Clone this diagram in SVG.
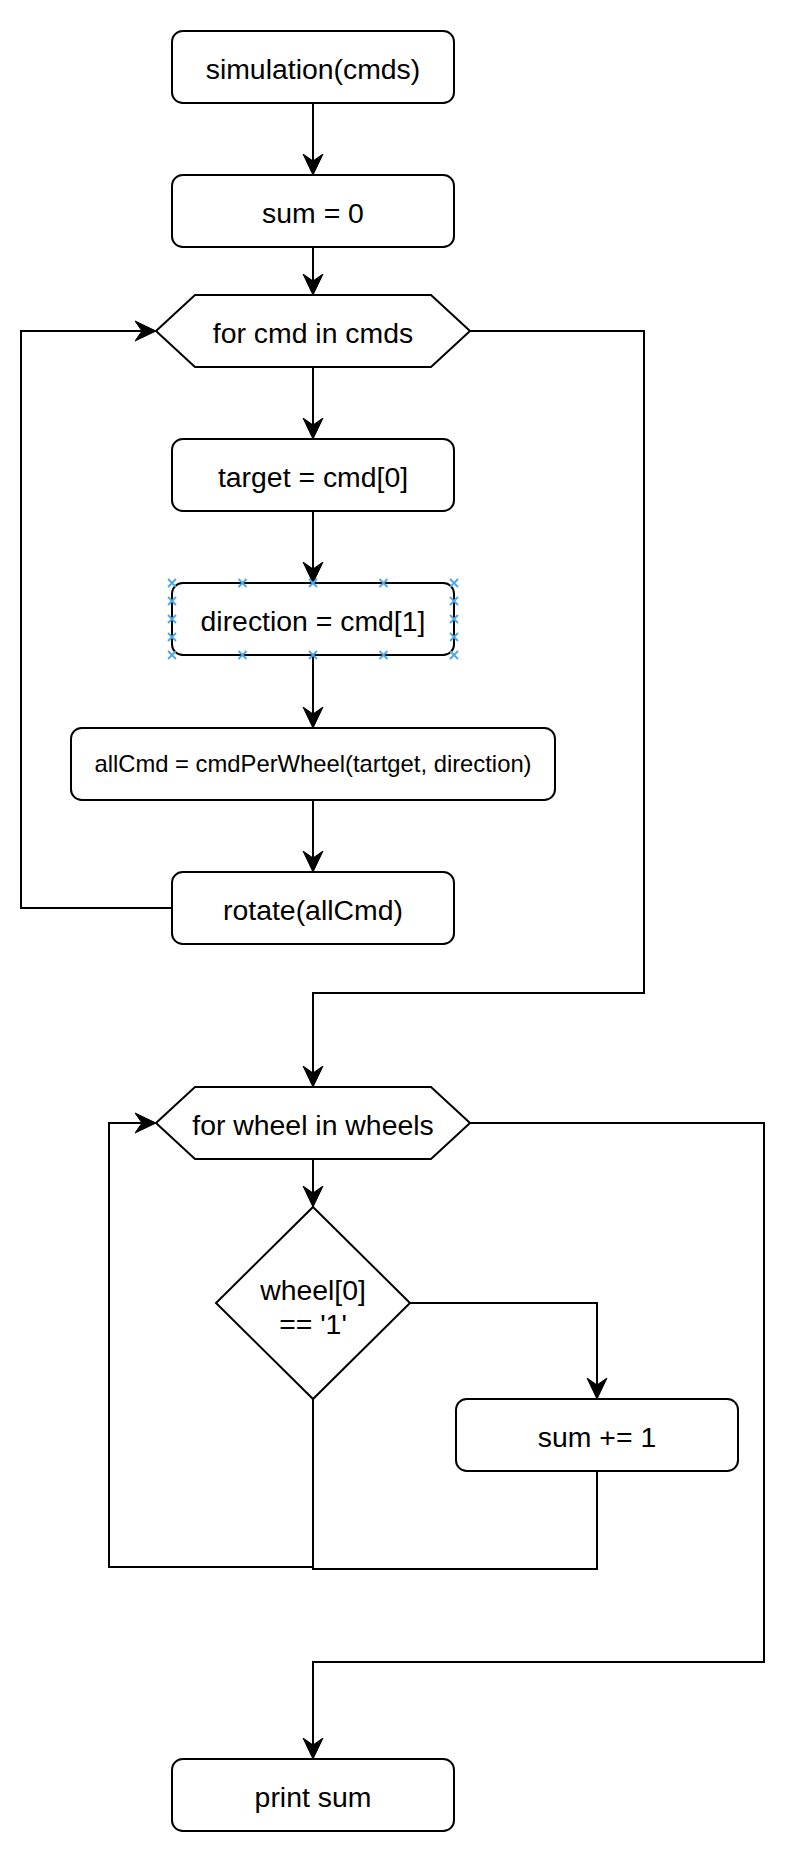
<svg xmlns="http://www.w3.org/2000/svg" width="810" height="1854" viewBox="0 0 810 1854">
<style>
.box{fill:#ffffff;stroke:#000000;stroke-width:2}
.t{font-family:"Liberation Sans",Arial,Helvetica,sans-serif;font-size:28.4px;fill:#000000;text-anchor:middle}
.ts{font-family:"Liberation Sans",Arial,Helvetica,sans-serif;font-size:23.8px;fill:#000000;text-anchor:middle}
.c{fill:none;stroke:#000000;stroke-width:2}
.sel{fill:none;stroke:#4aa8ea;stroke-width:1.8}
</style>
<defs>
<marker id="arr" markerUnits="userSpaceOnUse" markerWidth="22" markerHeight="22" viewBox="0 0 22 22" refX="21" refY="11" orient="auto">
<path d="M21,11 L0,1 L7,11 L0,21 Z" fill="#000000" stroke="#000000" stroke-width="1" stroke-linejoin="miter"/>
</marker>
</defs>
<rect width="810" height="1854" fill="#ffffff"/>
<g id="connectors">
<path class="c" d="M313,103 V175" marker-end="url(#arr)"/>
<path class="c" d="M313,247 V295" marker-end="url(#arr)"/>
<path class="c" d="M313,367 V439" marker-end="url(#arr)"/>
<path class="c" d="M313,511 V583" marker-end="url(#arr)"/>
<path class="c" d="M313,655 V728" marker-end="url(#arr)"/>
<path class="c" d="M313,800 V872" marker-end="url(#arr)"/>
<path class="c" d="M172,908 H21 V331 H156" marker-end="url(#arr)"/>
<path class="c" d="M470,331 H644 V993 H313 V1087" marker-end="url(#arr)"/>
<path class="c" d="M313,1159 V1207" marker-end="url(#arr)"/>
<path class="c" d="M410,1303 H597 V1399" marker-end="url(#arr)"/>
<path class="c" d="M313,1399 V1567 H109 V1123 H156" marker-end="url(#arr)"/>
<path class="c" d="M597,1471 V1569 H312"/>
<path class="c" d="M470,1123 H764 V1662 H313 V1759" marker-end="url(#arr)"/>
</g>
<g id="simulation">
<rect class="box" x="172" y="31" width="282" height="72" rx="10.8"/>
<text class="t" x="313" y="78.5">simulation(cmds)</text>
</g>
<g id="sum0">
<rect class="box" x="172" y="175" width="282" height="72" rx="10.8"/>
<text class="t" x="313" y="222.5">sum = 0</text>
</g>
<g id="forCmd">
<polygon class="box" points="156,331 195,295 431,295 470,331 431,367 195,367"/>
<text class="t" x="313" y="342.5">for cmd in cmds</text>
</g>
<g id="target">
<rect class="box" x="172" y="439" width="282" height="72" rx="10.8"/>
<text class="t" x="313" y="486.5">target = cmd[0]</text>
</g>
<g id="direction">
<rect class="box" x="172" y="583" width="282" height="72" rx="10.8"/>
<text class="t" x="313" y="630.5">direction = cmd[1]</text>
<path class="sel" d="M168,579 l8,8 m0,-8 l-8,8 M238.5,579 l8,8 m0,-8 l-8,8 M309,579 l8,8 m0,-8 l-8,8 M379.5,579 l8,8 m0,-8 l-8,8 M450,579 l8,8 m0,-8 l-8,8 M168,651 l8,8 m0,-8 l-8,8 M238.5,651 l8,8 m0,-8 l-8,8 M309,651 l8,8 m0,-8 l-8,8 M379.5,651 l8,8 m0,-8 l-8,8 M450,651 l8,8 m0,-8 l-8,8 M168,597 l8,8 m0,-8 l-8,8 M168,615 l8,8 m0,-8 l-8,8 M168,633 l8,8 m0,-8 l-8,8 M450,597 l8,8 m0,-8 l-8,8 M450,615 l8,8 m0,-8 l-8,8 M450,633 l8,8 m0,-8 l-8,8"/>
</g>
<g id="allCmd">
<rect class="box" x="71" y="728" width="484" height="72" rx="10.8"/>
<text class="ts" x="313" y="772">allCmd = cmdPerWheel(tartget, direction)</text>
</g>
<g id="rotate">
<rect class="box" x="172" y="872" width="282" height="72" rx="10.8"/>
<text class="t" x="313" y="919.5">rotate(allCmd)</text>
</g>
<g id="forWheel">
<polygon class="box" points="156,1123 195,1087 431,1087 470,1123 431,1159 195,1159"/>
<text class="t" x="313" y="1134.5">for wheel in wheels</text>
</g>
<g id="decision">
<polygon class="box" points="313,1207 410,1303 313,1399 216,1303"/>
<text class="t" x="313" y="1299.5">wheel[0]</text>
<text class="t" x="313" y="1333.5">== '1'</text>
</g>
<g id="sumInc">
<rect class="box" x="456" y="1399" width="282" height="72" rx="10.8"/>
<text class="t" x="597" y="1446.5">sum += 1</text>
</g>
<g id="printSum">
<rect class="box" x="172" y="1759" width="282" height="72" rx="10.8"/>
<text class="t" x="313" y="1806.5">print sum</text>
</g>
</svg>
